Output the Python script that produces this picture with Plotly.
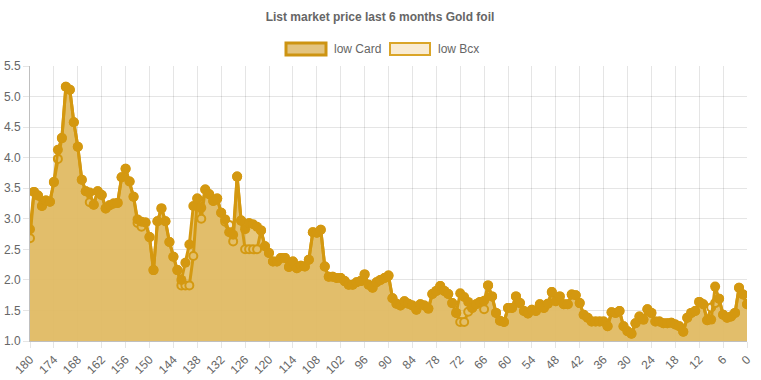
import plotly.graph_objects as go

days = list(range(180, -1, -1))

low_card = [
    2.83, 3.44, 3.38, 3.21, 3.30, 3.28, 3.60, 4.13, 4.32, 5.16,   # 180-171
    5.11, 4.58, 4.18, 3.64, 3.45, 3.43, 3.23, 3.45, 3.39, 3.17,   # 170-161
    3.22, 3.25, 3.26, 3.68, 3.82, 3.61, 3.36, 2.99, 2.95, 2.94,   # 160-151
    2.70, 2.16, 2.96, 3.17, 2.96, 2.62, 2.38, 2.16, 2.00, 2.28,   # 150-141
    2.58, 3.21, 3.33, 3.18, 3.48, 3.40, 3.29, 3.33, 3.10, 2.99,   # 140-131
    2.78, 2.74, 3.69, 2.97, 2.83, 2.93, 2.91, 2.87, 2.81, 2.55,   # 130-121
    2.44, 2.30, 2.30, 2.36, 2.36, 2.21, 2.30, 2.19, 2.23, 2.22,   # 120-111
    2.33, 2.78, 2.77, 2.82, 2.22, 2.05, 2.05, 2.03, 2.03, 1.98,   # 110-101
    1.92, 1.92, 1.96, 1.98, 2.09, 1.92, 1.87, 1.96, 2.00, 2.03,   # 100-91
    2.07, 1.70, 1.61, 1.58, 1.65, 1.61, 1.58, 1.51, 1.60, 1.58,   # 90-81
    1.53, 1.77, 1.82, 1.90, 1.82, 1.77, 1.62, 1.46, 1.78, 1.72,   # 80-71
    1.64, 1.54, 1.60, 1.64, 1.66, 1.91, 1.73, 1.46, 1.33, 1.31,   # 70-61
    1.54, 1.54, 1.73, 1.62, 1.49, 1.45, 1.51, 1.49, 1.60, 1.54,   # 60-51
    1.61, 1.80, 1.65, 1.73, 1.60, 1.60, 1.76, 1.75, 1.62, 1.43,   # 50-41
    1.38, 1.32, 1.32, 1.32, 1.32, 1.24, 1.47, 1.46, 1.49, 1.24,   # 40-31
    1.16, 1.12, 1.29, 1.40, 1.35, 1.52, 1.46, 1.32, 1.32, 1.29,   # 30-21
    1.29, 1.30, 1.27, 1.24, 1.15, 1.38, 1.46, 1.49, 1.64, 1.60,   # 20-11
    1.34, 1.35, 1.89, 1.69, 1.43, 1.38, 1.40, 1.46, 1.87, 1.76,   # 10-1
    1.60,                                                         # 0
]

# low Bcx mostly equals low Card; differences
bcx_diff = {
    180: 2.68, 173: 3.98, 165: 3.27, 153: 2.93, 152: 2.87,
    142: 1.91, 141: 1.91, 140: 1.91, 139: 2.39, 137: 3.00,
    131: 2.95, 130: 2.90, 129: 2.63,
    126: 2.50, 125: 2.50, 124: 2.50, 123: 2.50,
    72: 1.31, 71: 1.31, 70: 1.48, 66: 1.52,
    9: 1.55, 8: 1.62,
}
low_bcx = [bcx_diff.get(d, v) for d, v in zip(days, low_card)]

y_ticks = [1.0, 1.5, 2.0, 2.5, 3.0, 3.5, 4.0, 4.5, 5.0, 5.5]
x_ticks = list(range(180, -1, -6))

GOLD = "rgb(212,152,16)"
grid = "rgba(0,0,0,0.1)"

W, H = 761, 380

fig = go.Figure()
fig.add_trace(go.Scatter(
    x=days, y=low_bcx, name="low Bcx", mode="lines+markers",
    fill="tozeroy", fillcolor="rgba(243,231,212,0.9)",
    line=dict(color=GOLD, width=3),
    marker=dict(size=8, color="rgb(246,236,215)", line=dict(color=GOLD, width=2)),
))
fig.add_trace(go.Scatter(
    x=days, y=low_card, name="low Card", mode="lines+markers",
    fill="tozeroy", fillcolor="rgba(212,155,18,0.55)",
    line=dict(color=GOLD, width=3),
    marker=dict(size=10, color=GOLD),
))

# pixel -> paper conversion (plot area spans x 30..747, y 66..341)
def px2paper_x(px):
    return (px - 30) / 717.0

def px2paper_y(py):
    return (341 - py) / 275.0

shapes = [
    dict(type="rect", xref="paper", yref="paper",
         x0=px2paper_x(286), x1=px2paper_x(326), y0=px2paper_y(55), y1=px2paper_y(43),
         fillcolor="rgb(227,196,128)", line=dict(color="rgb(205,148,18)", width=3)),
    dict(type="rect", xref="paper", yref="paper",
         x0=px2paper_x(390), x1=px2paper_x(430), y0=px2paper_y(55), y1=px2paper_y(43),
         fillcolor="rgb(249,235,210)", line=dict(color="rgb(218,165,40)", width=2)),
]
annotations = [
    dict(xref="paper", yref="paper", x=px2paper_x(332), y=px2paper_y(49),
         text="low Card", showarrow=False, xanchor="left", yanchor="middle",
         font=dict(size=12, color="#666")),
    dict(xref="paper", yref="paper", x=px2paper_x(436), y=px2paper_y(49),
         text="low Bcx", showarrow=False, xanchor="left", yanchor="middle",
         font=dict(size=12, color="#666")),
]

fig.update_layout(
    width=W, height=H,
    margin=dict(l=30, r=W - 747, t=66, b=H - 341, autoexpand=False),
    paper_bgcolor="white", plot_bgcolor="white",
    font=dict(family="Liberation Sans, Arial, sans-serif", size=12, color="#666"),
    title=dict(text="<b>List market price last 6 months Gold foil</b>",
               x=380 / W, xanchor="center", y=1 - 17 / H, yanchor="middle",
               font=dict(size=12, color="#666"), automargin=False),
    showlegend=False,
    shapes=shapes, annotations=annotations,
    xaxis=dict(range=[180, 0], tickmode="array", tickvals=x_ticks,
               ticktext=[str(t) for t in x_ticks], tickangle=-45,
               showgrid=True, gridcolor=grid, gridwidth=1,
               ticks="outside", ticklen=6, tickcolor=grid,
               showline=True, linecolor="rgba(0,0,0,0.25)", linewidth=1,
               zeroline=False, automargin=False),
    yaxis=dict(range=[1.0, 5.5], tickmode="array", tickvals=y_ticks,
               ticktext=[f"{t:.1f}" for t in y_ticks],
               showgrid=True, gridcolor=grid, gridwidth=1,
               ticks="outside", ticklen=6, tickcolor=grid,
               showline=True, linecolor="rgba(0,0,0,0.25)", linewidth=1,
               zeroline=False, automargin=False),
)

# remove the browser's default 8px body margin so the figure fills the window
fig.write_html("out.html", config={"displayModeBar": False},
               post_script="document.body.style.margin='0px';")
